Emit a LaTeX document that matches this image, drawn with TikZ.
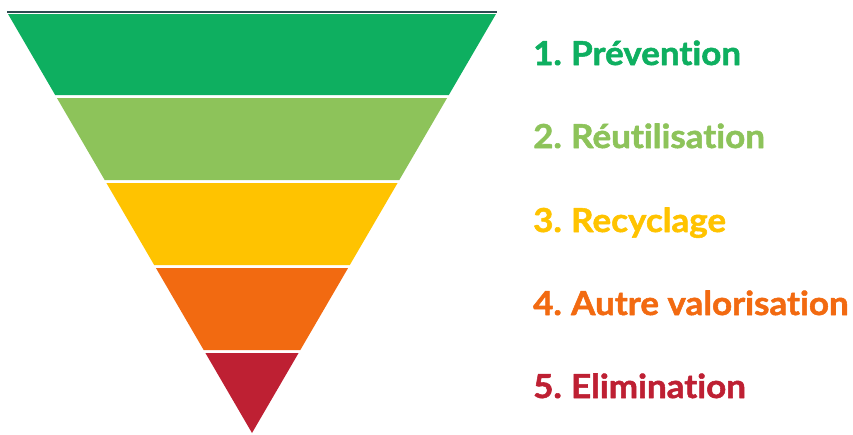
\documentclass[tikz,border=0pt]{standalone}
\usepackage{fontspec}
\setmainfont{Lato}[Ligatures=NoCommon,BoldFeatures={FakeBold=1.6,FakeStretch=1.06}]
\usepackage{tikz}
\usepackage{color}
\definecolor{cprev}{RGB}{14,175,96}
\definecolor{creut}{RGB}{141,195,90}
\definecolor{crecy}{RGB}{255,195,0}
\definecolor{cvalo}{RGB}{242,106,17}
\definecolor{celim}{RGB}{190,32,51}
\definecolor{ctop}{RGB}{45,75,80}
\tikzset{lab/.style={anchor=base west,inner sep=0pt,font=\fontsize{33}{38}\selectfont\bfseries}}

\begin{document}
\begin{tikzpicture}[line cap=round,line join=round,x=1pt,y=-1pt]
      \useasboundingbox (0,0) rectangle (853,434);
      % bands of the funnel
      \foreach \t/\b/\c in {14/95/cprev,98/180/creut,183/265/crecy,268/350/cvalo,353/433/celim}
      \fill[color=\c] ({252-0.5823*(433-\t)},\t) -- ({252+0.5823*(433-\t)},\t)
            -- ({252+0.5823*(433-\b)},\b) -- ({252-0.5823*(433-\b)},\b) -- cycle;
      \draw[line width=2pt,color=ctop,line cap=butt] (7,11.5) -- (497,11.5);
      % labels
      \node[lab,text=cprev] (prev) at (533,65) {1.\hspace{-2pt} Prévention};
      \node[lab,text=creut] (reut) at (533,148) {2.\hspace{-2pt} Réutilisation};
      \node[lab,text=crecy] (recy) at (533,232) {3.\hspace{-2pt} Recyclage};
      \node[lab,text=cvalo] (valo) at (533,315) {4.\hspace{-2pt} Autre valorisation};
      \node[lab,text=celim] (elim) at (533,398) {5.\hspace{-2pt} Elimination};
\end{tikzpicture}
\end{document}
